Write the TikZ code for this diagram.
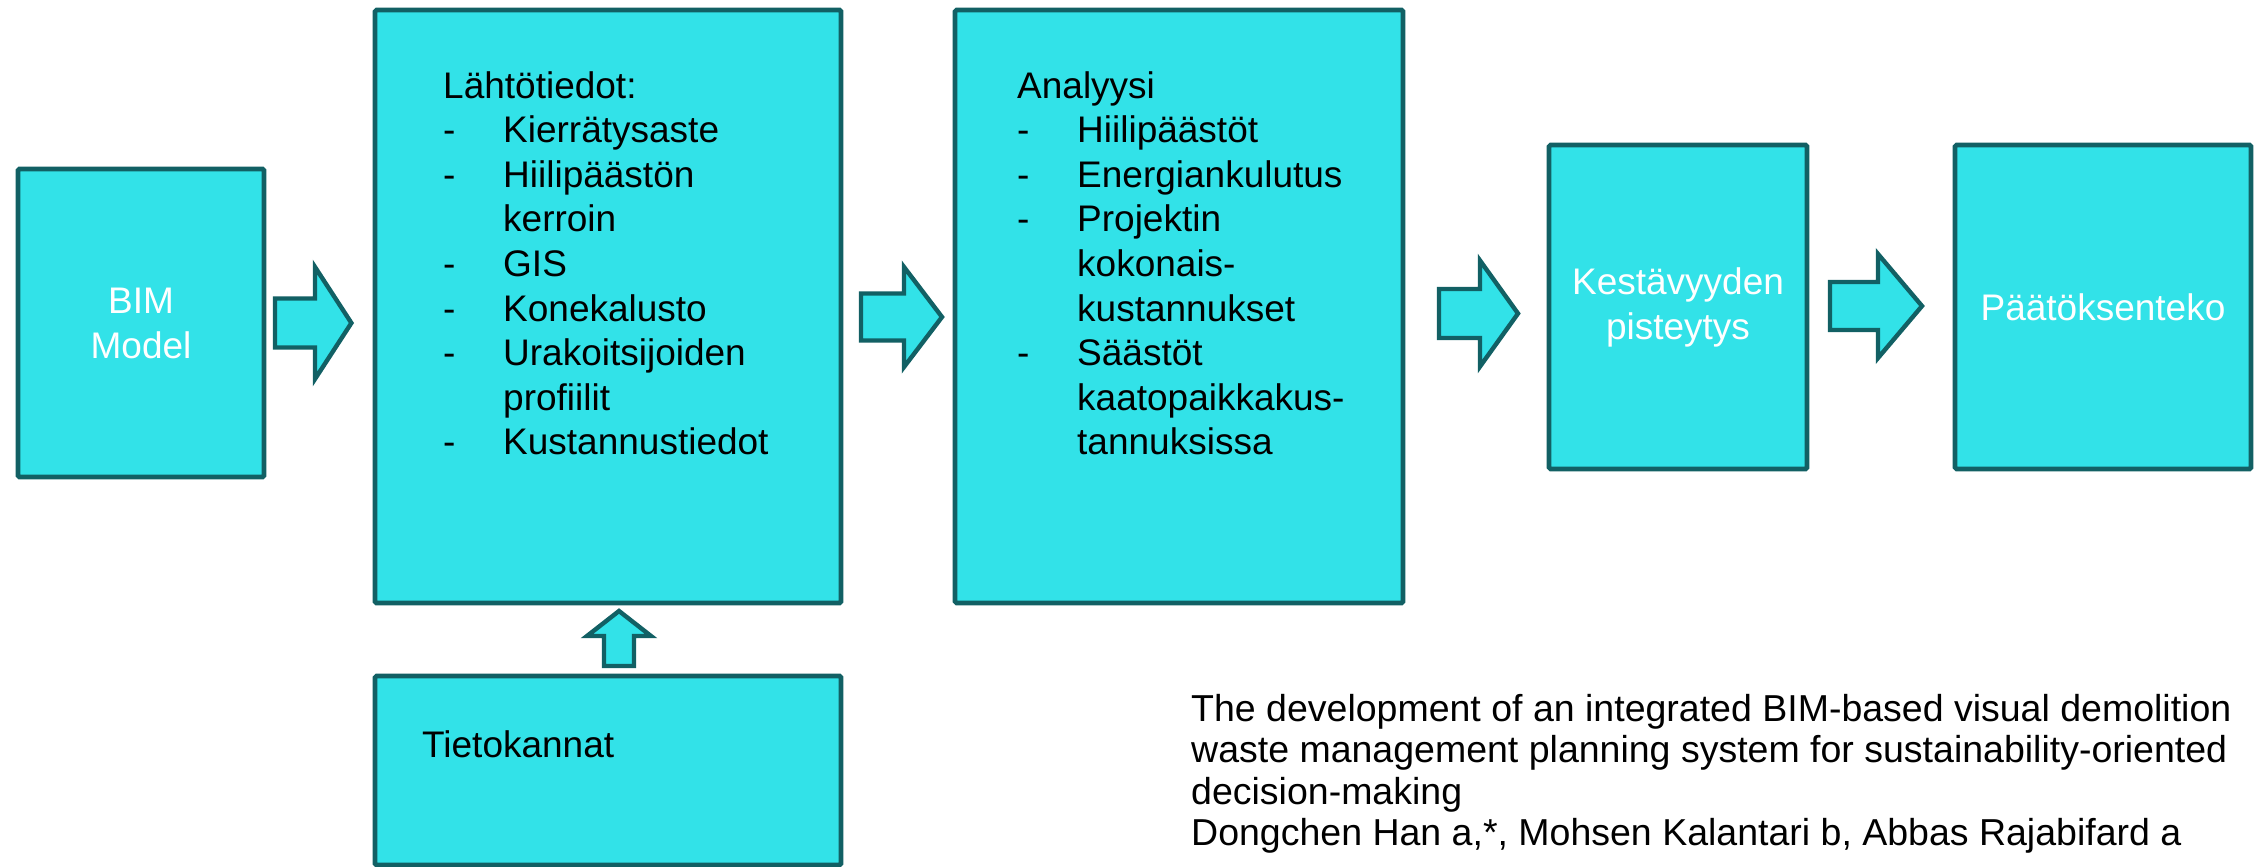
\documentclass[tikz,border=0pt]{standalone}
\usepackage{fontspec}
\setmainfont{Liberation Sans}
\definecolor{boxfill}{RGB}{50,226,232}
\definecolor{boxline}{RGB}{18,96,100}
\newcommand{\itemdash}{\makebox[60pt][l]{-}}
\newcommand{\itemgap}{\hspace*{60pt}}
\newcommand{\rarr}[6]{\draw[barrow] (#1,{#4-#5}) -- (#2,{#4-#5}) -- (#2,{#4-#6}) -- (#3,#4) -- (#2,{#4+#6}) -- (#2,{#4+#5}) -- (#1,{#4+#5}) -- cycle;}
\begin{document}
\begin{tikzpicture}[x=1pt,y=-1pt,
 box/.style={draw=boxline, fill=boxfill, line width=4.6pt, rounded corners=1.5pt, inner sep=0pt, outer sep=0pt},
 wtext/.style={text=white, font=\fontsize{37}{45}\selectfont, align=center},
 btext/.style={text=black, font=\fontsize{37}{44.6}\selectfont, inner sep=0pt, anchor=base west},
 barrow/.style={draw=boxline, fill=boxfill, line width=4.4pt, line join=miter},
]
\useasboundingbox (0,0) rectangle (2262,867);

% boxes
\node[box, wtext, minimum width=246pt, minimum height=308pt] (bim) at (141,323) {BIM\\Model};
\node[box, minimum width=466pt, minimum height=593pt] (lahto) at (608,306.5) {};
\node[box, minimum width=466pt, minimum height=189pt] (tieto) at (608,770.5) {};
\node[box, minimum width=448pt, minimum height=593pt] (analyysi) at (1179,306.5) {};
\node[box, wtext, minimum width=258pt, minimum height=324pt] (kest) at (1678,307) {Kestävyyden\\pisteytys};
\node[box, wtext, minimum width=296pt, minimum height=324pt] (paatos) at (2103,307) {Päätöksenteko};

% texts
\node[btext] (lahtotext) at (443,98) {\begin{tabular}[t]{@{}l@{}}
Lähtötiedot:\\
\itemdash Kierrätysaste\\
\itemdash Hiilipäästön\\
\itemgap kerroin\\
\itemdash GIS\\
\itemdash Konekalusto\\
\itemdash Urakoitsijoiden\\
\itemgap profiilit\\
\itemdash Kustannustiedot
\end{tabular}};
\node[btext] (analyysitext) at (1017,98) {\begin{tabular}[t]{@{}l@{}}
Analyysi\\
\itemdash Hiilipäästöt\\
\itemdash Energiankulutus\\
\itemdash Projektin\\
\itemgap kokonais-\\
\itemgap kustannukset\\
\itemdash Säästöt\\
\itemgap kaatopaikkakus-\\
\itemgap tannuksissa
\end{tabular}};
\node[btext] (tietotext) at (422,757) {Tietokannat};

\node[btext, font=\fontsize{37.5}{41.5}\selectfont] (ref) at (1191,721) {\begin{tabular}[t]{@{}l@{}}
The development of an integrated BIM-based visual demolition\\
waste management planning system for sustainability-oriented\\
decision-making\\
Dongchen Han a,*, Mohsen Kalantari b, Abbas Rajabifard a
\end{tabular}};

% block arrows
\rarr{275}{315}{351.4}{323}{24.5}{56}
\rarr{861}{904}{942}{317}{23.5}{50}
\rarr{1439}{1480}{1518}{313.5}{24.5}{53}
\rarr{1830}{1878}{1922}{306}{24}{52}
\draw[barrow] (604,666) -- (604,636) -- (587,636) -- (619,611) -- (651,636) -- (634,636) -- (634,666) -- cycle;
\end{tikzpicture}
\end{document}
